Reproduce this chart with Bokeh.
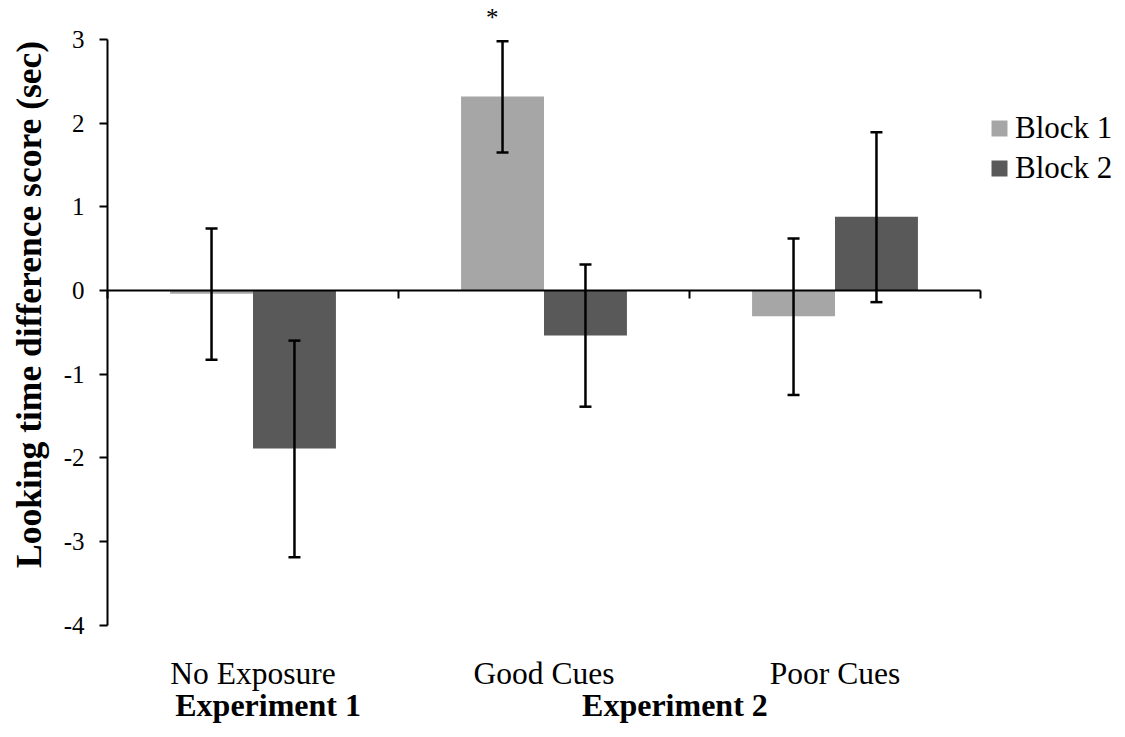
import numpy as np
from bokeh.plotting import figure
from bokeh.models import (ColumnDataSource, Range1d, LinearAxis, FixedTicker,
                          Whisker, TeeHead, Label, Legend, LegendItem)
from bokeh.embed import file_html
from bokeh.resources import INLINE

# ---------------- data ----------------
categories = ["No Exposure", "Good Cues", "Poor Cues"]
series_names = ["Block 1", "Block 2"]
block1 = [-0.04, 2.32, -0.31]
block2 = [-1.89, -0.54, 0.88]
block1_upper = [0.74, 2.98, 0.62]
block1_lower = [-0.83, 1.65, -1.25]
block2_upper = [-0.60, 0.31, 1.89]
block2_lower = [-3.19, -1.39, -0.14]
y_ticks = [-4, -3, -2, -1, 0, 1, 2, 3]
y_tick_labels = ["-4", "-3", "-2", "-1", "0", "1", "2", "3"]
group_labels = ["Experiment 1", "Experiment 2"]
y_title = "Looking time difference score (sec)"
sig_mark = "*"

# ---------------- styles / layout ----------------
FONT = "Liberation Serif"
colors = ["#a6a6a6", "#595959"]
W, H = 1125, 737
bar_w = 0.285
n = len(categories)
y_lo, y_hi = min(y_ticks), max(y_ticks)
# pixel placement of the data area inside the canvas
px_left, px_right = 107, 980      # x = 0 .. n
px_top, px_bottom = 39, 624.5     # y = y_hi .. y_lo
sx = (px_right - px_left) / n
sy = (px_bottom - px_top) / (y_hi - y_lo)
x_start = -px_left / sx
x_end = (W - px_left) / sx
y_end = y_hi + px_top / sy
y_start = y_hi - (H - px_top) / sy

group_x = [0.552, 1.95]       # centres of the experiment captions (category units)

centers = np.arange(n) + 0.5

p = figure(width=W, height=H,
           x_range=Range1d(x_start, x_end), y_range=Range1d(y_start, y_end),
           output_backend="svg", toolbar_location=None,
           x_axis_location=None, y_axis_location=None,
           min_border=0)
p.outline_line_color = None
p.grid.visible = False
p.background_fill_color = "white"
p.border_fill_color = "white"

# y axis (at x = 0)
ya = LinearAxis(fixed_location=0, bounds=(y_lo, y_hi),
                ticker=FixedTicker(ticks=y_ticks),
                major_label_overrides={t: l for t, l in zip(y_ticks, y_tick_labels)},
                major_label_text_font=FONT, major_label_text_font_size="25px",
                major_label_text_color="black", major_tick_out=8, major_tick_in=0,
                minor_tick_line_color=None, axis_line_width=2,
                major_tick_line_width=2, major_label_standoff=15)
p.add_layout(ya, "left")

# zero line with category boundary ticks
zero_axis = LinearAxis(fixed_location=0, bounds=(0, n),
                       ticker=FixedTicker(ticks=list(range(n + 1))),
                       major_label_overrides={i: "" for i in range(n + 1)},
                       major_tick_out=8, major_tick_in=0, axis_line_width=2,
                       major_tick_line_width=2, minor_tick_line_color=None,
                       major_label_standoff=0)
p.add_layout(zero_axis, "below")

# category labels (axis at y = y_lo, no line / ticks)
cat_axis = LinearAxis(fixed_location=y_lo, ticker=FixedTicker(ticks=list(centers)),
                      major_label_overrides={float(c): name for c, name in zip(centers, categories)},
                      axis_line_color=None, major_tick_line_color=None,
                      minor_tick_line_color=None, major_label_standoff=25,
                      major_label_text_font=FONT, major_label_text_font_size="31.5px",
                      major_label_text_color="black")
p.add_layout(cat_axis, "below")

# experiment captions
grp_axis = LinearAxis(fixed_location=y_lo, ticker=FixedTicker(ticks=group_x),
                      major_label_overrides={float(g): t for g, t in zip(group_x, group_labels)},
                      axis_line_color=None, major_tick_line_color=None,
                      minor_tick_line_color=None, major_label_standoff=56,
                      major_label_text_font=FONT, major_label_text_font_size="32px",
                      major_label_text_font_style="bold", major_label_text_color="black")
p.add_layout(grp_axis, "below")

# bars + error bars
xs = [centers - bar_w / 2, centers + bar_w / 2]
vals = [block1, block2]
uppers = [block1_upper, block2_upper]
lowers = [block1_lower, block2_lower]
items = []
for i in range(2):
    src = ColumnDataSource(dict(x=xs[i], top=vals[i], upper=uppers[i], lower=lowers[i]))
    r = p.vbar(x="x", top="top", bottom=0, width=bar_w, source=src,
               fill_color=colors[i], line_color=None)
    items.append(LegendItem(label=series_names[i], renderers=[r]))
    w = Whisker(source=src, base="x", upper="upper", lower="lower",
                line_color="black", line_width=2.5,
                upper_head=TeeHead(size=12, line_width=2.5, line_color="black"),
                lower_head=TeeHead(size=12, line_width=2.5, line_color="black"))
    w.level = "annotation"
    p.add_layout(w)

# significance mark above Good Cues, Block 1
p.add_layout(Label(x=xs[0][1] - 0.035, y=y_hi + 22 / sy, text=sig_mark,
                   text_align="center", text_baseline="middle", text_font=FONT,
                   text_font_size="25px", text_color="black"))

# y title
p.add_layout(Label(x=(28 - px_left) / sx, y=-14 / sy, text=y_title, angle=np.pi / 2,
                   text_align="center", text_baseline="middle", text_font=FONT,
                   text_font_style="bold", text_font_size="35.5px", text_color="black"))

legend = Legend(items=items, location=(989, 551), padding=0, margin=0,
                border_line_color=None, background_fill_alpha=0,
                glyph_width=20, glyph_height=20, label_standoff=6, spacing=4,
                label_text_font=FONT, label_text_font_size="31px",
                label_text_color="black")
p.add_layout(legend)

open("out.html", "w").write(file_html(p, INLINE))
